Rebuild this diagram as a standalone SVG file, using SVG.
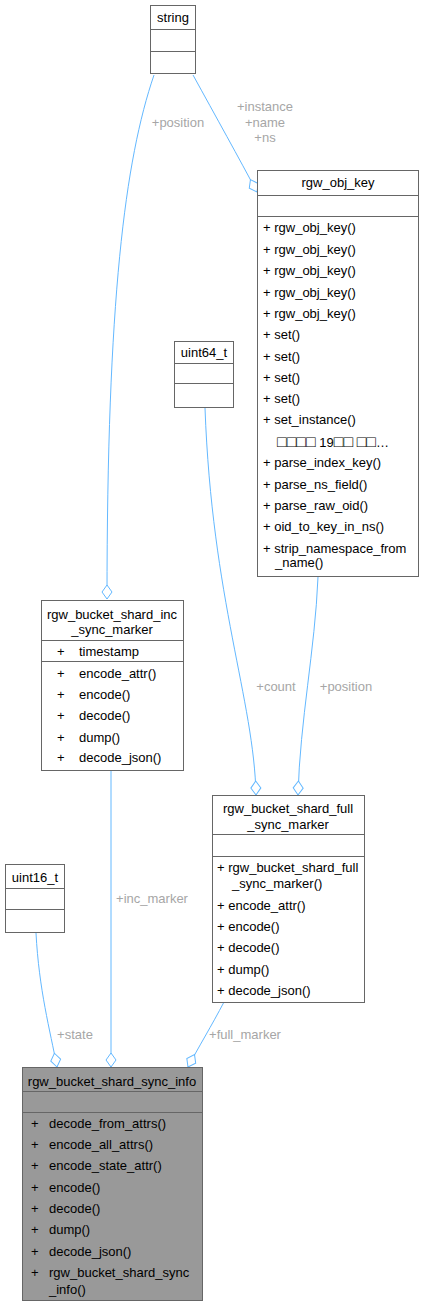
<svg xmlns="http://www.w3.org/2000/svg" width="425" height="1307" viewBox="0 0 425 1307">
<style>
text{font-family:"Liberation Sans",Arial,sans-serif;font-size:13px;fill:#000}
.box{fill:#fff;stroke:#666;stroke-width:1}
.hl{fill:#999;stroke:#666;stroke-width:1}
.sep{stroke:#666;stroke-width:1}
.c{text-anchor:middle}
.lbl{fill:#a6a6a6;text-anchor:middle}
.edge{fill:none;stroke:#63b8ff;stroke-width:1}
.tofu{font-size:16px}
</style>
<defs>
<marker id="od" markerUnits="userSpaceOnUse" markerWidth="16" markerHeight="12" refX="15" refY="6" orient="auto" viewBox="0 0 16 12">
<path d="M1,6 L8,1 L15,6 L8,11 Z" fill="#fff" stroke="#63b8ff" stroke-width="1"/>
</marker>
</defs>
<g id="edges">
<path class="edge" d="M154,75 C125,160 107,300 107,599" marker-end="url(#od)"/>
<path class="edge" d="M193,75 C215,115 240,160 257,192" marker-end="url(#od)"/>
<path class="edge" d="M205,408 C212,600 254,700 256,795" marker-end="url(#od)"/>
<path class="edge" d="M318,577 C315,650 300,720 298,795" marker-end="url(#od)"/>
<path class="edge" d="M36,933 C39,990 50,1030 57,1067" marker-end="url(#od)"/>
<path class="edge" d="M111,771 L111,1067" marker-end="url(#od)"/>
<path class="edge" d="M224,1002 C212,1025 198,1048 188,1067" marker-end="url(#od)"/>
<text class="lbl" x="178" y="127">+position</text>
<text class="lbl" x="265" y="111">+instance</text>
<text class="lbl" x="265" y="127">+name</text>
<text class="lbl" x="265" y="142">+ns</text>
<text class="lbl" x="276" y="691">+count</text>
<text class="lbl" x="346" y="691">+position</text>
<text class="lbl" x="152" y="903">+inc_marker</text>
<text class="lbl" x="75" y="1039">+state</text>
<text class="lbl" x="245" y="1039">+full_marker</text>
</g>
<g id="string">
<rect class="box" x="150.5" y="5.5" width="45" height="68"/>
<line class="sep" x1="150.5" y1="29.5" x2="195.5" y2="29.5"/>
<line class="sep" x1="150.5" y1="51.5" x2="195.5" y2="51.5"/>
<text class="c" x="173" y="22">string</text>
</g>
<g id="rgw_obj_key">
<rect class="box" x="257.5" y="170.5" width="161" height="406"/>
<line class="sep" x1="257.5" y1="195.5" x2="418.5" y2="195.5"/>
<line class="sep" x1="257.5" y1="216.5" x2="418.5" y2="216.5"/>
<text class="c" x="338" y="187">rgw_obj_key</text>
<text x="263" y="232">+ rgw_obj_key()</text>
<text x="263" y="254">+ rgw_obj_key()</text>
<text x="263" y="275">+ rgw_obj_key()</text>
<text x="263" y="297">+ rgw_obj_key()</text>
<text x="263" y="318">+ rgw_obj_key()</text>
<text x="263" y="339">+ set()</text>
<text x="263" y="361">+ set()</text>
<text x="263" y="382">+ set()</text>
<text x="263" y="403">+ set()</text>
<text x="263" y="424">+ set_instance()</text>
<text x="277" y="447"><tspan class="tofu">□□□□</tspan> 19<tspan class="tofu">□□</tspan> <tspan class="tofu">□□</tspan>…</text>
<text x="263" y="467">+ parse_index_key()</text>
<text x="263" y="489">+ parse_ns_field()</text>
<text x="263" y="510">+ parse_raw_oid()</text>
<text x="263" y="531">+ oid_to_key_in_ns()</text>
<text x="263" y="553">+ strip_namespace_from</text>
<text x="275" y="567">_name()</text>
</g>
<g id="uint64_t">
<rect class="box" x="174.5" y="341.5" width="59" height="66"/>
<line class="sep" x1="174.5" y1="363.5" x2="233.5" y2="363.5"/>
<line class="sep" x1="174.5" y1="383.5" x2="233.5" y2="383.5"/>
<text class="c" x="204" y="357">uint64_t</text>
</g>
<g id="rgw_bucket_shard_inc_sync_marker">
<rect class="box" x="41.5" y="600.5" width="142" height="170"/>
<line class="sep" x1="41.5" y1="640.5" x2="183.5" y2="640.5"/>
<line class="sep" x1="41.5" y1="661.5" x2="183.5" y2="661.5"/>
<text class="c" x="112" y="619">rgw_bucket_shard_inc</text>
<text class="c" x="112" y="634">_sync_marker</text>
<text x="57" y="656">+</text><text x="79" y="656">timestamp</text>
<text x="57" y="678">+</text><text x="79" y="678">encode_attr()</text>
<text x="57" y="699">+</text><text x="79" y="699">encode()</text>
<text x="57" y="720">+</text><text x="79" y="720">decode()</text>
<text x="57" y="742">+</text><text x="79" y="742">dump()</text>
<text x="57" y="762">+</text><text x="79" y="762">decode_json()</text>
</g>
<g id="rgw_bucket_shard_full_sync_marker">
<rect class="box" x="212.5" y="795.5" width="152" height="207"/>
<line class="sep" x1="212.5" y1="834.5" x2="364.5" y2="834.5"/>
<line class="sep" x1="212.5" y1="856.5" x2="364.5" y2="856.5"/>
<text class="c" x="288" y="813">rgw_bucket_shard_full</text>
<text class="c" x="288" y="829">_sync_marker</text>
<text x="217" y="872">+ rgw_bucket_shard_full</text>
<text x="232" y="888">_sync_marker()</text>
<text x="217" y="910">+ encode_attr()</text>
<text x="217" y="931">+ encode()</text>
<text x="217" y="952">+ decode()</text>
<text x="217" y="974">+ dump()</text>
<text x="217" y="995">+ decode_json()</text>
</g>
<g id="uint16_t">
<rect class="box" x="5.5" y="864.5" width="59" height="68"/>
<line class="sep" x1="5.5" y1="888.5" x2="64.5" y2="888.5"/>
<line class="sep" x1="5.5" y1="909.5" x2="64.5" y2="909.5"/>
<text class="c" x="35" y="882">uint16_t</text>
</g>
<g id="rgw_bucket_shard_sync_info">
<rect class="hl" x="22.5" y="1067.5" width="180" height="233"/>
<line class="sep" x1="22.5" y1="1091.5" x2="202.5" y2="1091.5"/>
<line class="sep" x1="22.5" y1="1112.5" x2="202.5" y2="1112.5"/>
<text class="c" x="112" y="1086">rgw_bucket_shard_sync_info</text>
<text x="31" y="1128">+</text><text x="49" y="1128">decode_from_attrs()</text>
<text x="31" y="1149">+</text><text x="49" y="1149">encode_all_attrs()</text>
<text x="31" y="1170">+</text><text x="49" y="1170">encode_state_attr()</text>
<text x="31" y="1192">+</text><text x="49" y="1192">encode()</text>
<text x="31" y="1213">+</text><text x="49" y="1213">decode()</text>
<text x="31" y="1234">+</text><text x="49" y="1234">dump()</text>
<text x="31" y="1256">+</text><text x="49" y="1256">decode_json()</text>
<text x="31" y="1277">+</text><text x="49" y="1277">rgw_bucket_shard_sync</text>
<text x="49" y="1294">_info()</text>
</g>
</svg>
